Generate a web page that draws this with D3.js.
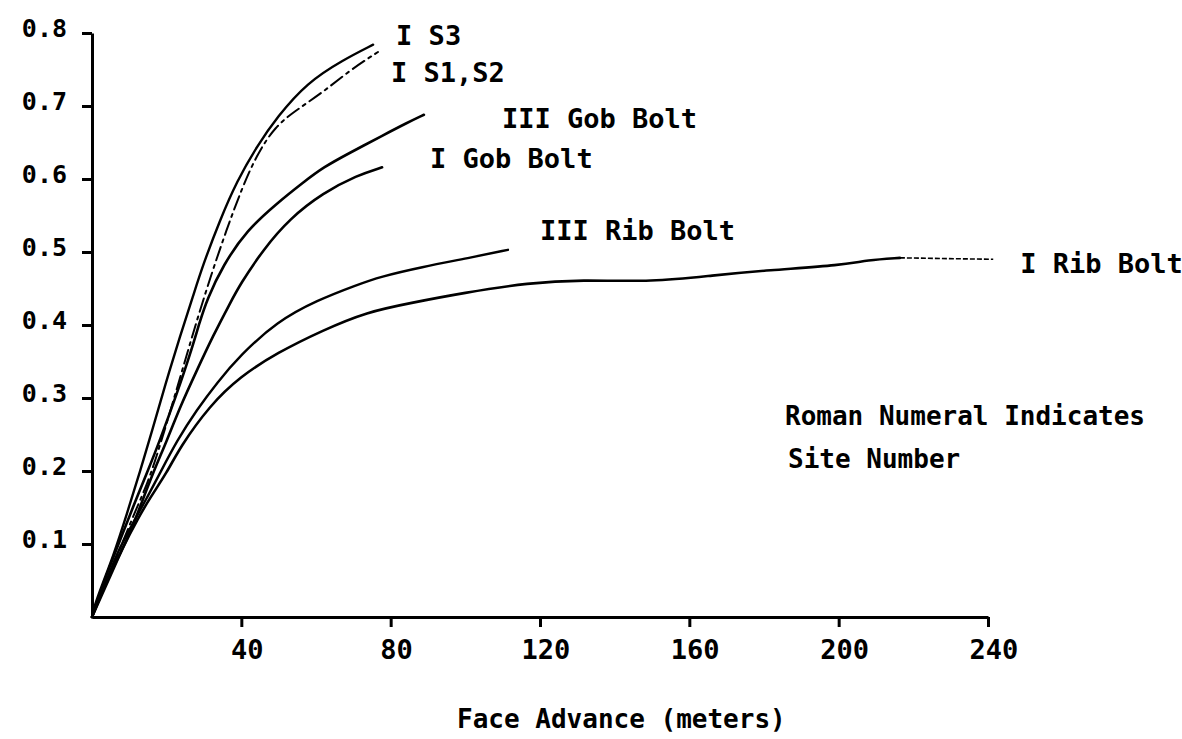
<!DOCTYPE html>
<html>
<head>
<meta charset="utf-8">
<script src="https://cdn.jsdelivr.net/npm/d3@7"></script>
<style>
  body { margin: 0; background: #fff; }
  text { font-family: "DejaVu Sans Mono", monospace; font-weight: bold; fill: #000; }
</style>
</head>
<body>
<div id="chart"></div>
<script>
// DATA - face advance (m) vs value
var xTicks = [40, 80, 120, 160, 200, 240];
var yTicks = [0.1, 0.2, 0.3, 0.4, 0.5, 0.6, 0.7, 0.8];

var seriesNames = ["I S3", "I S1,S2", "III Gob Bolt", "I Gob Bolt", "III Rib Bolt", "I Rib Bolt"];

var iS3 = [[0,0],[0.3,0.01],[2.9,0.047],[5.6,0.082],[9.4,0.142],[12.9,0.2],[16.1,0.255],[19.6,0.318],
  [23.6,0.385],[27.1,0.44],[29.7,0.482],[34.3,0.544],[38.8,0.597],[44.2,0.645],[49.6,0.685],
  [57.6,0.732],[67.2,0.763],[75.3,0.784]];

var iS1S2 = [[0,0],[4,0.05],[8,0.1],[12,0.15],[15.5,0.19],[20,0.265],[24,0.335],[28,0.405],[32,0.47],
  [36,0.53],[40,0.585],[44,0.632],[49,0.672],[54.9,0.695],[61.9,0.719],[69.1,0.749],[76.6,0.774]];

var iiiGob = [[0,0],[4,0.06],[7.5,0.105],[11,0.151],[14.7,0.197],[18.2,0.242],[22.8,0.307],[26.3,0.36],
  [28.9,0.405],[30.8,0.435],[35.1,0.482],[41.5,0.53],[49.6,0.567],[56.5,0.595],[61.9,0.616],
  [69.1,0.636],[78,0.66],[84.4,0.677],[88.9,0.688]];

var iGob = [[0,0],[4.8,0.06],[9.4,0.105],[12.9,0.151],[16.3,0.197],[20.1,0.242],[23.6,0.288],[28.1,0.338],
  [32.4,0.385],[37,0.43],[39.6,0.455],[45.8,0.503],[53,0.546],[61.9,0.581],[71,0.605],[77.7,0.616]];

var iiiRib = [[0,0],[4,0.051],[6.7,0.088],[11,0.129],[14.7,0.163],[18.2,0.197],[22.8,0.242],[28.1,0.284],
  [33.5,0.321],[39.6,0.358],[49.6,0.405],[60.3,0.434],[71,0.455],[77.1,0.466],[87.9,0.479],
  [102.1,0.493],[111.4,0.503]];

var iRib = [[0,0],[5.6,0.064],[8.3,0.096],[12.1,0.133],[15.5,0.163],[20.1,0.198],[23.6,0.233],[31.6,0.29],
  [39.6,0.329],[49.6,0.362],[61.9,0.393],[73.7,0.418],[85.2,0.43],[99.4,0.444],[117.3,0.458],
  [130.7,0.462],[150.3,0.459],[166.4,0.468],[180.8,0.475],[201.2,0.482],[207.6,0.489],[216.4,0.492]];
var iRibTail = [[216.4,0.492],[241.4,0.49]];

var noteLines = ["Roman Numeral Indicates", "Site Number"];
var xTitle = "Face Advance (meters)";

var allSeries = [iS3, iS1S2, iiiGob, iGob, iiiRib, iRib];

// SVG
var width = 1182, height = 739;
var svg = d3.select('#chart').append('svg')
  .attr('width', width)
  .attr('height', height);

var x = d3.scaleLinear().domain([0, 240]).range([92, 988]);
var y = d3.scaleLinear().domain([0, 0.8]).range([617, 33]);

//AXES
var yAxis = svg.append('g')
  .attr('transform', 'translate(92,0)')
  .call(d3.axisLeft(y).tickValues(yTicks).tickSize(10).tickSizeOuter(0).tickPadding(15)
    .tickFormat(d3.format('.1f')));
yAxis.selectAll('text').attr('font-size', 25).attr('dy', '0.15em');

var xAxis = svg.append('g')
  .attr('transform', 'translate(0,617)')
  .call(d3.axisBottom(x).tickValues(xTicks).tickSize(10).tickSizeOuter(0).tickPadding(13));
xAxis.selectAll('text').attr('font-size', 27).attr('dx', '0.2em');

svg.selectAll('.domain').attr('stroke', '#000').attr('stroke-width', 3);
svg.selectAll('.tick line').attr('stroke', '#000').attr('stroke-width', 3);
svg.selectAll('.tick text').attr('font-family', '"DejaVu Sans Mono", monospace').attr('font-weight', 'bold');

//CURVES
var line = d3.line()
  .x(function(d) { return x(d[0]); })
  .y(function(d) { return y(d[1]); })
  .curve(d3.curveBasis);

var dashes = [null, '14,5,3,5', null, null, null, null];
var widths = [2.4, 2, 2.6, 2.6, 2.4, 2.6];

svg.selectAll('path.curve')
  .data(allSeries)
  .enter().append('path')
  .attr('class', 'curve')
  .attr('d', line)
  .attr('fill', 'none')
  .attr('stroke', '#000')
  .attr('stroke-width', function(d, i) { return widths[i]; })
  .attr('stroke-dasharray', function(d, i) { return dashes[i]; })
  .attr('stroke-linecap', 'round');

svg.append('path')
  .attr('d', line(iRibTail))
  .attr('fill', 'none')
  .attr('stroke', '#000')
  .attr('stroke-width', 1.6)
  .attr('stroke-dasharray', '5,2');

//CURVE LABELS - placed off the end of each curve
var labelOffsets = [[23, 0], [13, 30], [78, 13], [48, 1], [32, -10], [27, 14]];
svg.selectAll('text.curve-label')
  .data(allSeries)
  .enter().append('text')
  .attr('class', 'curve-label')
  .attr('x', function(d, i) {
    var last = i == 5 ? iRibTail[1] : d[d.length - 1];
    return x(last[0]) + labelOffsets[i][0];
  })
  .attr('y', function(d, i) {
    var last = i == 5 ? iRibTail[1] : d[d.length - 1];
    return y(last[1]) + labelOffsets[i][1];
  })
  .attr('font-size', 27)
  .text(function(d, i) { return seriesNames[i]; });

//NOTE
svg.selectAll('text.note')
  .data(noteLines)
  .enter().append('text')
  .attr('class', 'note')
  .attr('x', function(d, i) { return i == 0 ? 785 : 788; })
  .attr('y', function(d, i) { return 425 + i * 43; })
  .attr('font-size', 26)
  .text(function(d) { return d; });

//X TITLE
svg.append('text')
  .attr('x', 457)
  .attr('y', 728)
  .attr('font-size', 26)
  .text(xTitle);
</script>
</body>
</html>
